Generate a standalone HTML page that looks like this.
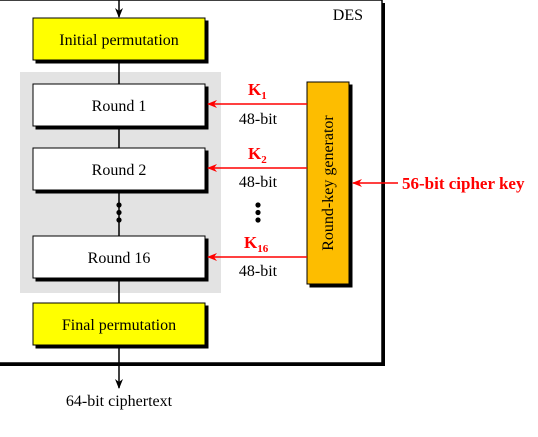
<!DOCTYPE html><html><head><style>body{margin:0;background:#fff}svg text{font-family:"Liberation Serif","Times New Roman",Times,Tinos,"DejaVu Serif",serif}</style></head><body>
<svg width="538" height="432" xmlns="http://www.w3.org/2000/svg">
<defs>
<marker id="ab" markerWidth="10" markerHeight="8" refX="9" refY="4" orient="auto" markerUnits="userSpaceOnUse"><path d="M0,0 L10,4 L0,8 L3,4z" fill="#000"/></marker>
<marker id="ar" markerWidth="10" markerHeight="8" refX="9" refY="4" orient="auto" markerUnits="userSpaceOnUse"><path d="M0,0 L10,4 L0,8 L3,4z" fill="#f00"/></marker>
</defs>
<rect x="-5" y="3" width="390" height="363" fill="#000"/>
<rect x="-5" y="0" width="387" height="363" fill="#fff" stroke="#000" stroke-width="1.5"/>
<text x="363" y="20" font-size="16" text-anchor="end">DES</text>
<line x1="119" y1="0" x2="119" y2="17" stroke="#000" stroke-width="1.5" marker-end="url(#ab)"/>
<rect x="20" y="72" width="201" height="221" fill="#e3e3e3"/>
<line x1="119" y1="60" x2="119" y2="345" stroke="#000" stroke-width="1.5"/>
<g stroke="#000" stroke-width="1">
<rect x="36" y="21" width="172" height="42" fill="#000"/><rect x="33" y="18" width="172" height="42" fill="#ff0"/>
<rect x="36" y="87" width="172" height="42" fill="#000"/><rect x="33" y="84" width="172" height="42" fill="#fff"/>
<rect x="36" y="151" width="172" height="42" fill="#000"/><rect x="33" y="148" width="172" height="42" fill="#fff"/>
<rect x="36" y="239" width="172" height="42" fill="#000"/><rect x="33" y="236" width="172" height="42" fill="#fff"/>
<rect x="36" y="306" width="172" height="42" fill="#000"/><rect x="33" y="303" width="172" height="42" fill="#ff0"/>
<rect x="310" y="85" width="42" height="202" fill="#000"/><rect x="307" y="82" width="42" height="202" fill="#fdbd00"/>
</g>
<g font-size="16" text-anchor="middle">
<text x="119" y="45">Initial permutation</text>
<text x="119" y="111">Round 1</text>
<text x="119" y="175">Round 2</text>
<text x="119" y="263">Round 16</text>
<text x="119" y="330">Final permutation</text>
<text x="258" y="124">48-bit</text>
<text x="258" y="187">48-bit</text>
<text x="258" y="276">48-bit</text>
<text x="119" y="406">64-bit ciphertext</text>
<text transform="translate(333,183) rotate(-90)" x="0" y="0">Round-key generator</text>
</g>
<g fill="#000"><circle cx="119" cy="205" r="2.6"/><circle cx="119" cy="212.5" r="2.6"/><circle cx="119" cy="220" r="2.6"/>
<circle cx="258" cy="205" r="2.6"/><circle cx="258" cy="212.5" r="2.6"/><circle cx="258" cy="220" r="2.6"/></g>
<g stroke="#f00" stroke-width="1.5">
<line x1="307" y1="104" x2="208" y2="104" marker-end="url(#ar)"/>
<line x1="307" y1="168" x2="208" y2="168" marker-end="url(#ar)"/>
<line x1="307" y1="257" x2="208" y2="257" marker-end="url(#ar)"/>
<line x1="398" y1="183" x2="353" y2="183" marker-end="url(#ar)"/>
</g>
<g fill="#f00" font-weight="bold" font-size="17">
<text x="248" y="95">K<tspan font-size="11" dy="4">1</tspan></text>
<text x="248" y="159">K<tspan font-size="11" dy="4">2</tspan></text>
<text x="244" y="248">K<tspan font-size="11" dy="4">16</tspan></text>
<text x="402" y="189">56-bit cipher key</text>
</g>
<line x1="119" y1="345" x2="119" y2="388" stroke="#000" stroke-width="1.5" marker-end="url(#ab)"/>
</svg>
</body></html>
